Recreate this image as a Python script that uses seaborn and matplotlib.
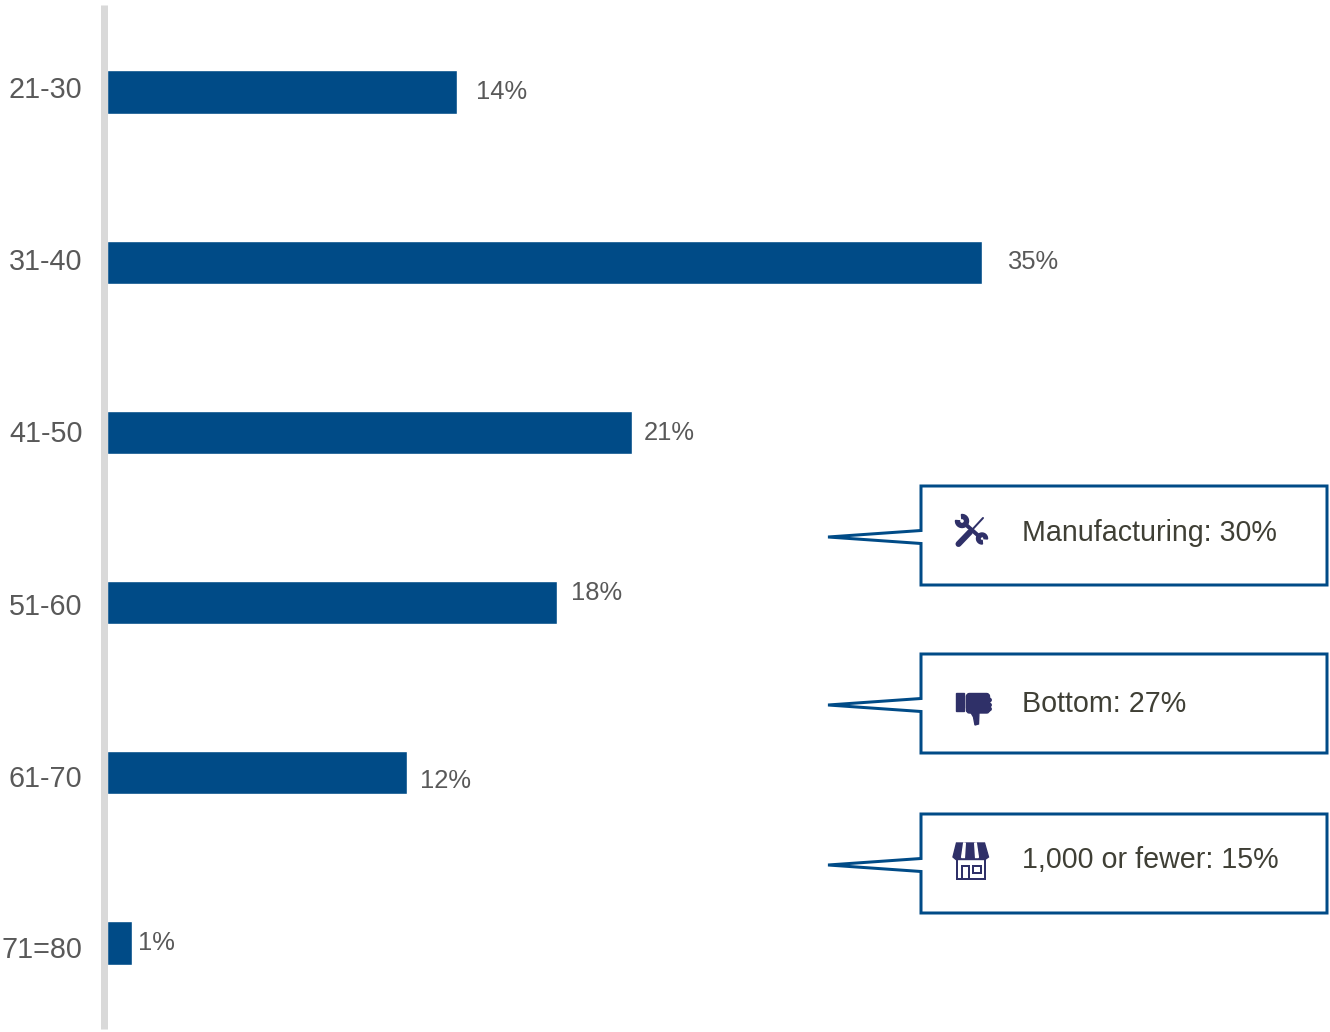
import matplotlib
matplotlib.use("Agg")
import matplotlib.pyplot as plt
from matplotlib.patches import Circle, FancyBboxPatch, Polygon, Rectangle, Wedge
from matplotlib.transforms import ScaledTranslation
import pandas as pd
import seaborn as sns

# Respondent age bands and their shares (percent)
age_bands = ["21-30", "31-40", "41-50", "51-60", "61-70", "71=80"]
shares = [14, 35, 21, 18, 12, 1]

# Callout wording
callout_texts = ["Manufacturing: 30%", "Bottom: 27%", "1,000 or fewer: 15%"]

# Layout, in figure pixels
W, H = 1330, 1032
DPI = 100
PT = 72 / DPI
PX_PER_PERCENT = 25.0
AXIS_LEFT, AXIS_TOP, AXIS_BOTTOM = 107.4, 5, 1029
FIRST_CENTRE, STEP = 92, 170.2
TICK_SHIFT_DOWN = [-5, -3, -1, 1, 3, 4]
VALUE_LABEL_XY = [(476, 92), (1007, 262), (644, 433), (571, 593), (420, 781), (138, 943)]
CALLOUT_TOPS = [486, 654, 814]
CALLOUT_TEXT_Y = [533, 704, 860]

BLUE = "#004b87"
GREY_AXIS = "#d9d9d9"
ICON = "#2f3068"

sns.set_theme(style="white")
plt.rcParams["font.family"] = ["Liberation Sans", "DejaVu Sans"]

fig = plt.figure(figsize=(W / DPI, H / DPI), dpi=DPI, facecolor="white")
ax = fig.add_axes([AXIS_LEFT / W, (H - AXIS_BOTTOM) / H, (W - AXIS_LEFT) / W, (AXIS_BOTTOM - AXIS_TOP) / H])

frame = pd.DataFrame({"age": age_bands, "share": shares})
sns.barplot(data=frame, x="share", y="age", orient="y", color=BLUE, saturation=1, width=0.253, ax=ax)

ax.set_xlim(0, (W - AXIS_LEFT) / PX_PER_PERCENT)
ax.set_ylim((AXIS_BOTTOM - FIRST_CENTRE) / STEP, (AXIS_TOP - FIRST_CENTRE) / STEP)
ax.set_xlabel("")
ax.set_ylabel("")
ax.set_xticks([])
ax.patch.set_alpha(0)
for side in ("top", "right", "bottom"):
    ax.spines[side].set_visible(False)
spine = ax.spines["left"]
spine.set_color(GREY_AXIS)
spine.set_linewidth(7 * PT)
spine.set_capstyle("butt")
spine.set_position(("outward", 3.9 * PT))

ax.tick_params(axis="y", length=0, pad=21 * PT, labelsize=20.7, labelcolor="#595959")
for tick_label, shift in zip(ax.get_yticklabels(), TICK_SHIFT_DOWN):
    tick_label.set_transform(tick_label.get_transform() + ScaledTranslation(0, -shift / DPI, fig.dpi_scale_trans))

# Pixel-space layer for value labels and callouts
layer = fig.add_axes([0, 0, 1, 1])
layer.set_xlim(0, W)
layer.set_ylim(H, 0)
layer.axis("off")
layer.patch.set_alpha(0)

for share, (x, y) in zip(shares, VALUE_LABEL_XY):
    layer.text(x, y, f"{share}%", fontsize=18.4, color="#595959", ha="left", va="center")


def draw_callout(top, text, text_y):
    """Speech-box outline whose pointer reaches left from the box."""
    left, right, bottom = 921, 1327, top + 99
    mid = top + 51
    outline = [(left, top), (right, top), (right, bottom), (left, bottom),
               (left, mid + 6.5), (828, mid), (left, mid - 6.5)]
    layer.add_patch(Polygon(outline, closed=True, facecolor="white", edgecolor=BLUE,
                            linewidth=3 * PT, joinstyle="miter", zorder=2))
    layer.text(1022, text_y, text, fontsize=20.6, color="#3f3f35", ha="left", va="center", zorder=3)


for top, text, text_y in zip(CALLOUT_TOPS, callout_texts, CALLOUT_TEXT_Y):
    draw_callout(top, text, text_y)


def draw_tools():
    """Crossed wrench and screwdriver."""
    z = 4
    layer.plot([983, 971], [518, 531], color=ICON, lw=2 * PT, solid_capstyle="round", zorder=z)
    layer.plot([970, 958.5], [532, 544], color=ICON, lw=6 * PT, solid_capstyle="round", zorder=z)
    layer.plot([964, 981], [523, 538], color=ICON, lw=4 * PT, solid_capstyle="butt", zorder=z)
    # Angles run clockwise on screen because the layer's y axis points down
    layer.add_patch(Wedge((962, 521), 6.5, 265, 545, width=4, color=ICON, zorder=z))
    layer.add_patch(Wedge((982, 538.5), 5.5, 85, 365, width=3.5, color=ICON, zorder=z))


def draw_thumb():
    """Thumbs-down glyph with cuff, fist and knuckles."""
    z = 4
    layer.add_patch(Rectangle((956, 692.7), 7.5, 18, color=ICON, zorder=z))
    layer.add_patch(FancyBboxPatch((968, 695), 20, 16.5, boxstyle="round,pad=1.5,rounding_size=3", color=ICON, zorder=z))
    layer.add_patch(Polygon([(966.5, 696), (970, 694), (970, 712), (966.5, 708)], closed=True, color=ICON, zorder=z))
    layer.add_patch(Polygon([(970, 711), (979, 711), (978.5, 724), (975, 725), (973.5, 717)], closed=True, color=ICON, zorder=z))
    for y in (700, 705, 709):
        layer.add_patch(Circle((989.5, y), 1.7, color=ICON, zorder=z))


def draw_shop():
    """Storefront with striped awning, door and window."""
    z = 4
    layer.add_patch(Polygon([(956.5, 843), (984.5, 843), (988.5, 857), (985, 859.5), (956, 859.5), (953, 857)],
                            closed=True, color=ICON, zorder=z))
    for x_top, x_bottom in ((964.5, 963), (975.5, 977)):
        layer.add_patch(Polygon([(x_top - 0.8, 843), (x_top + 0.8, 843), (x_bottom + 1.4, 857.5), (x_bottom - 1.4, 857.5)],
                                closed=True, color="white", zorder=z + 1))
    layer.add_patch(Rectangle((956.5, 859), 28, 19.5, facecolor="white", edgecolor=ICON, linewidth=2 * PT, zorder=z - 1))
    layer.add_patch(Rectangle((962, 866), 6.5, 12.5, fill=False, edgecolor=ICON, linewidth=2 * PT, zorder=z))
    layer.add_patch(Rectangle((973, 866), 7.5, 7, fill=False, edgecolor=ICON, linewidth=2 * PT, zorder=z))


draw_tools()
draw_thumb()
draw_shop()

fig.savefig("out.png", dpi=DPI, facecolor="white")
